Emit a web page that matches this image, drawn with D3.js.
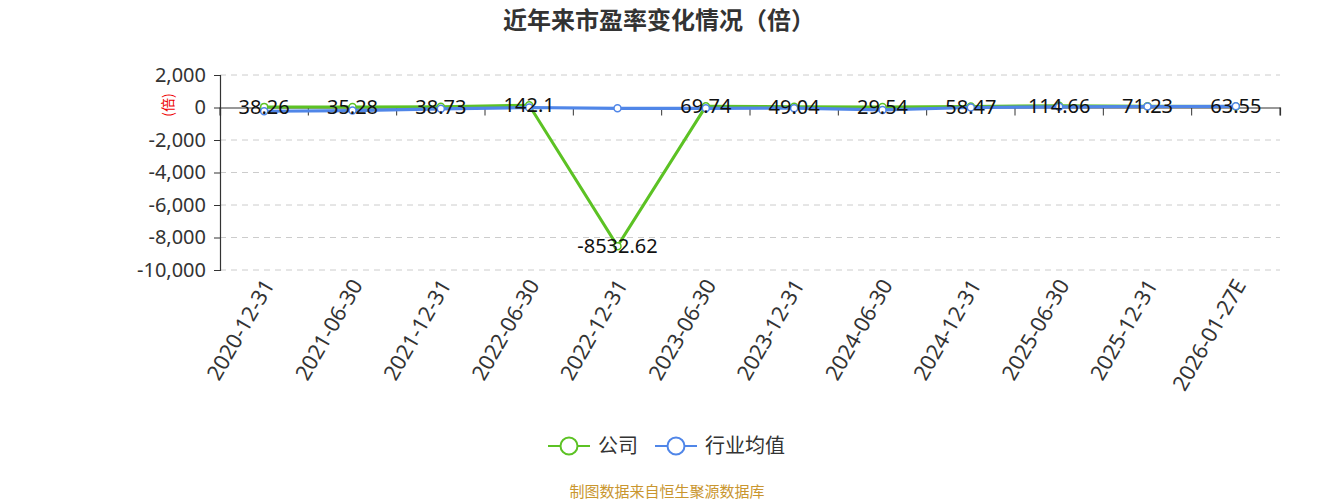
<!DOCTYPE html>
<html>
<head>
<meta charset="utf-8">
<title>近年来市盈率变化情况</title>
<style>
  body { margin: 0; background: #fff; }
  svg { font-family: "Noto Sans", "Noto Sans CJK SC", sans-serif; }
</style>
</head>
<body>
<div id="chart"></div>
<script src="https://d3js.org/d3.v7.min.js"></script>
<script>
// data
var categories = ["2020-12-31", "2021-06-30", "2021-12-31", "2022-06-30", "2022-12-31", "2023-06-30",
                  "2023-12-31", "2024-06-30", "2024-12-31", "2025-06-30", "2025-12-31", "2026-01-27E"];
var companyPE = [38.26, 35.28, 38.73, 142.1, -8532.62, 69.74, 49.04, 29.54, 58.47, 114.66, 71.23, 63.55];
var industryPE = [-230, -190, -80, 0, -50, -50, -40, -150, 0, 40, 60, 70];
var yTicks = [2000, 0, -2000, -4000, -6000, -8000, -10000];
var seriesNames = ["公司", "行业均值"];

var W = 1333, H = 500;
var green = "#5cc224", blue = "#5086e8";

var svg = d3.select("#chart").append("svg")
    .attr("width", W).attr("height", H);

var x = d3.scaleBand().domain(categories).range([220, 1280]);
var y = d3.scaleLinear().domain([-10000, 2000]).range([270, 75]);
var cx = function(d, i) { return x(categories[i]) + x.bandwidth() / 2; };
var fmt = function(v) { return d3.format(",")(v).replace("\u2212", "-"); };

// title
svg.append("text")
    .attr("x", 659).attr("y", 29)
    .attr("text-anchor", "middle")
    .attr("font-size", 24).attr("font-weight", "bold")
    .attr("fill", "#333")
    .attr("font-family", "Noto Sans CJK SC")
    .text("近年来市盈率变化情况（倍）");

// dashed grid
svg.append("g").selectAll("line")
    .data(yTicks.filter(function(t) { return t !== 0; }))
    .join("line")
    .attr("x1", 220).attr("x2", 1280)
    .attr("y1", function(d) { return y(d); }).attr("y2", function(d) { return y(d); })
    .attr("stroke", "#ccc").attr("stroke-dasharray", "6,5");

// y axis
var yAxis = svg.append("g")
    .attr("transform", "translate(220,0)")
    .call(d3.axisLeft(y).tickValues(yTicks).tickSize(6).tickPadding(8).tickFormat(fmt));
yAxis.select(".domain").attr("stroke", "#333").attr("stroke-width", 1.2);
yAxis.selectAll(".tick line").attr("stroke", "#333");
yAxis.selectAll("text").attr("font-size", 20).attr("fill", "#333").attr("font-family", "Noto Sans");

svg.append("text")
    .attr("transform", "translate(173,105) rotate(-90)")
    .attr("text-anchor", "middle")
    .attr("font-size", 14).attr("fill", "#e00")
    .attr("font-family", "Noto Sans CJK SC")
    .text("(倍)");

// x axis on zero
var xAxis = svg.append("g")
    .attr("transform", "translate(0," + y(0) + ")")
    .call(d3.axisBottom(x).tickSizeOuter(0).tickSize(8).tickFormat(""));
xAxis.select(".domain").attr("stroke", "#333").attr("stroke-width", 1.2);
xAxis.selectAll(".tick line").remove();
xAxis.selectAll(".bnd").data(d3.range(categories.length + 1)).join("line")
    .attr("x1", function(i) { return 220 + i * x.bandwidth(); })
    .attr("x2", function(i) { return 220 + i * x.bandwidth(); })
    .attr("y1", 0).attr("y2", 8).attr("stroke", "#333");

// x labels
svg.append("g").selectAll("text")
    .data(categories)
    .join("text")
    .attr("transform", function(d, i) { return "translate(" + (cx(d, i) + 6) + ",282) rotate(-60)"; })
    .attr("text-anchor", "end")
    .attr("dominant-baseline", "middle")
    .attr("font-size", 21.5).attr("fill", "#333")
    .text(function(d) { return d; });

var line = d3.line().x(function(d, i) { return cx(d, i); }).y(function(d) { return y(d); });

function drawSeries(vals, color, w) {
    svg.append("path").datum(vals)
        .attr("d", line).attr("fill", "none")
        .attr("stroke", color).attr("stroke-width", w);
    svg.append("g").selectAll("circle").data(vals).join("circle")
        .attr("cx", cx).attr("cy", function(d) { return y(d); })
        .attr("r", 3.5).attr("fill", "#fff")
        .attr("stroke", color).attr("stroke-width", 1.5);
}
drawSeries(companyPE, green, 3);
drawSeries(industryPE, blue, 3.2);

// value labels for company
svg.append("g").selectAll("text").data(companyPE).join("text")
    .attr("x", cx).attr("y", function(d) { return y(d) + 7; })
    .attr("text-anchor", "middle")
    .attr("font-size", 20).attr("fill", "#111")
    .text(function(d) { return String(d).replace("\u2212", "-"); });

// legend
var legend = svg.append("g");
var legendItems = [{name: seriesNames[0], color: green, x: 548}, {name: seriesNames[1], color: blue, x: 655}];
legendItems.forEach(function(it) {
    legend.append("line")
        .attr("x1", it.x).attr("x2", it.x + 42)
        .attr("y1", 446).attr("y2", 446)
        .attr("stroke", it.color).attr("stroke-width", 2);
    legend.append("circle")
        .attr("cx", it.x + 21).attr("cy", 446).attr("r", 8.5)
        .attr("fill", "#fff").attr("stroke", it.color).attr("stroke-width", 2);
    legend.append("text")
        .attr("x", it.x + 50).attr("y", 453)
        .attr("font-size", 20).attr("fill", "#333")
        .attr("font-family", "Noto Sans CJK SC")
        .text(it.name);
});

// source note
svg.append("text")
    .attr("x", 667).attr("y", 497)
    .attr("text-anchor", "middle")
    .attr("font-size", 15).attr("fill", "#c9962f")
    .attr("font-family", "Noto Sans CJK SC")
    .text("制图数据来自恒生聚源数据库");
</script>
</body>
</html>
